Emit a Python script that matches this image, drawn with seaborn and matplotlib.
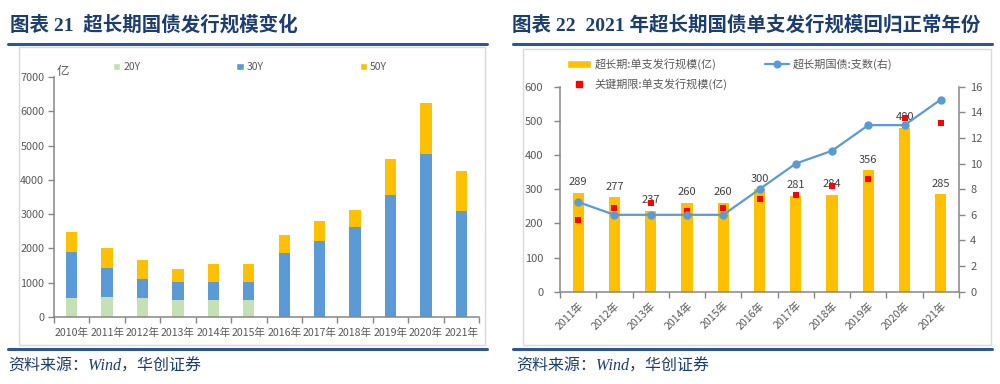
import numpy as np
import pandas as pd
import matplotlib
matplotlib.use("Agg")
import matplotlib.pyplot as plt
import seaborn as sns
from matplotlib.patches import Rectangle, Patch
from matplotlib.lines import Line2D

# ---------------- data ----------------
years_left = ["2010年", "2011年", "2012年", "2013年", "2014年", "2015年",
              "2016年", "2017年", "2018年", "2019年", "2020年", "2021年"]
bond_20y = [550, 570, 550, 510, 510, 510, 0, 0, 0, 0, 0, 0]
bond_30y = [1360, 850, 550, 500, 510, 510, 1870, 2220, 2620, 3550, 4760, 3090]
bond_50y = [560, 600, 550, 390, 530, 530, 520, 580, 500, 1070, 1490, 1180]

years_right = ["2011年", "2012年", "2013年", "2014年", "2015年", "2016年",
               "2017年", "2018年", "2019年", "2020年", "2021年"]
single_size = [289, 277, 237, 260, 260, 300, 281, 284, 356, 480, 285]
bond_count = [7, 6, 6, 6, 6, 8, 10, 11, 13, 13, 15]
key_size = [210, 246, 259, 236, 244, 270, 282, 309, 331, 508, 495]

left_ticks = list(range(0, 7001, 1000))
right_ticks = list(range(0, 601, 100))
count_ticks = list(range(0, 17, 2))

# ---------------- style ----------------
sns.set_style("white")
plt.rcParams["font.family"] = ["Noto Sans CJK SC", "DejaVu Sans"]
plt.rcParams["axes.unicode_minus"] = False

GREEN = "#C5E0B4"
BLUE = "#5B9BD5"
YEL = "#FFC000"
RED = "#FF0000"
TXT = "#595959"
AXC = "#868686"
NAVY = "#1B3D70"
LINEBLUE = "#2E5597"

W, H = 1000, 384
fig = plt.figure(figsize=(W / 100, H / 100), dpi=100)
fig.patch.set_facecolor("white")


def fx(x):
    return x / W


def fy(y):
    return 1 - y / H


# ---------------- decorations ----------------
for (x0, x1) in [(8, 487), (513, 992)]:
    fig.add_artist(Line2D([fx(x0), fx(x1)], [fy(44), fy(44)], color=LINEBLUE, lw=2.2,
                          transform=fig.transFigure))
    fig.add_artist(Line2D([fx(x0), fx(x1)], [fy(349), fy(349)], color=LINEBLUE, lw=2.2,
                          transform=fig.transFigure))
fig.add_artist(Rectangle((fx(19), fy(345)), fx(485) - fx(19), fy(47) - fy(345), fill=False,
                         edgecolor="#D9D9D9", lw=1, transform=fig.transFigure))
fig.add_artist(Rectangle((fx(523), fy(345)), fx(991) - fx(523), fy(49) - fy(345), fill=False,
                         edgecolor="#D9D9D9", lw=1, transform=fig.transFigure))

title_fam = ["Liberation Serif", "Noto Sans CJK SC"]
fig.text(fx(10), fy(25), "图表 21  超长期国债发行规模变化", ha="left", va="center",
         fontsize=14, fontweight="bold", color=NAVY, family=title_fam)
fig.text(fx(512), fy(25), "图表 22  2021 年超长期国债单支发行规模回归正常年份", ha="left", va="center",
         fontsize=14, fontweight="bold", color=NAVY, family=title_fam)
for x0 in [8, 516]:
    fig.text(fx(x0), fy(367), "资料来源：Wind，华创证券", ha="left", va="center",
             fontsize=11.5, style="italic", color=NAVY, family=title_fam)

# ---------------- left chart ----------------
axL = fig.add_axes([fx(54), fy(317), fx(479) - fx(54), fy(77) - fy(317)])
dfL = pd.DataFrame({"year": years_left, "b20": bond_20y, "b30": bond_30y, "b50": bond_50y})
dfL["c30"] = dfL["b20"] + dfL["b30"]
dfL["c50"] = dfL["c30"] + dfL["b50"]

bw = 0.32
sns.barplot(data=dfL, x="year", y="c50", color=YEL, saturation=1, width=bw, ax=axL, linewidth=0)
sns.barplot(data=dfL, x="year", y="c30", color=BLUE, saturation=1, width=bw, ax=axL, linewidth=0)
sns.barplot(data=dfL, x="year", y="b20", color=GREEN, saturation=1, width=bw, ax=axL, linewidth=0)

nL = len(years_left)
axL.set_xlim(-0.5, nL - 0.5)
axL.set_ylim(0, 7000)
axL.set_yticks(left_ticks)
axL.set_xticks(np.arange(nL))
axL.set_xticklabels(years_left)
axL.set_xticks(np.arange(nL + 1) - 0.5, minor=True)
axL.set_xlabel("")
axL.set_ylabel("")
for s in ["top", "right"]:
    axL.spines[s].set_visible(False)
for s in ["left", "bottom"]:
    axL.spines[s].set_color(AXC)
    axL.spines[s].set_linewidth(1.1)
axL.tick_params(axis="x", which="major", length=0, pad=8, labelsize=7.6, labelcolor=TXT)
axL.tick_params(axis="x", which="minor", length=4, width=1, color=AXC, direction="out", bottom=True)
axL.tick_params(axis="y", length=4, width=1, color=AXC, direction="out", left=True,
                pad=3, labelsize=7.8, labelcolor=TXT)
axL.set_facecolor("none")

fig.text(fx(63), fy(72), "亿", ha="center", va="center", fontsize=9, color=TXT)
handlesL = [Patch(facecolor=GREEN), Patch(facecolor=BLUE), Patch(facecolor=YEL)]
fig.legend(handlesL, ["20Y", "30Y", "50Y"], loc="center left", bbox_to_anchor=(fx(113), fy(67)),
           ncol=3, frameon=False, handlelength=0.7, handleheight=0.7, handletextpad=0.3,
           columnspacing=9.2, fontsize=7.5, borderpad=0, borderaxespad=0, labelcolor=TXT)

# ---------------- right chart ----------------
axR = fig.add_axes([fx(560), fy(291.7), fx(959) - fx(560), fy(86.7) - fy(291.7)])
dfR = pd.DataFrame({"year": years_right, "single": single_size, "count": bond_count, "key": key_size})
nR = len(years_right)

sns.barplot(data=dfR, x="year", y="single", color=YEL, saturation=1, width=0.31, ax=axR, linewidth=0)
axR.bar_label(axR.containers[0], labels=[str(v) for v in single_size], padding=4,
              fontsize=8, color="#404040")
sns.stripplot(data=dfR, x="year", y="key", marker="s", color=RED, size=4.8, jitter=False,
              linewidth=0, ax=axR, zorder=6)

axR2 = axR.twinx()
sns.pointplot(data=dfR, x="year", y="count", color=BLUE, markers="o", errorbar=None,
              ax=axR2, markersize=4.8, linewidth=1.6)

for ax in (axR, axR2):
    ax.set_xlim(-0.5, nR - 0.5)
    ax.set_xlabel("")
    ax.set_ylabel("")
axR.set_ylim(0, 600)
axR.set_yticks(right_ticks)
axR2.set_ylim(0, 16)
axR2.set_yticks(count_ticks)
axR.set_xticks(np.arange(nR))
axR.set_xticklabels(years_right, rotation=45, ha="right", rotation_mode="anchor")
axR.set_xticks(np.arange(nR + 1) - 0.5, minor=True)

for s in ["top", "right"]:
    axR.spines[s].set_visible(False)
for s in ["left", "bottom"]:
    axR.spines[s].set_color(AXC)
    axR.spines[s].set_linewidth(1.1)
for s in ["top", "left", "bottom"]:
    axR2.spines[s].set_visible(False)
axR2.spines["right"].set_color(AXC)
axR2.spines["right"].set_linewidth(1.1)

axR.tick_params(axis="x", which="major", length=0, pad=6, labelsize=7.6, labelcolor=TXT)
axR.tick_params(axis="x", which="minor", length=4, width=1, color=AXC, direction="out", bottom=True)
axR.tick_params(axis="y", length=4, width=1, color=AXC, direction="out", left=True,
                pad=8, labelsize=8, labelcolor=TXT)
axR2.tick_params(axis="y", length=4, width=1, color=AXC, direction="out", right=True,
                 pad=4, labelsize=8, labelcolor=TXT)
axR2.tick_params(axis="x", which="both", length=0, labelbottom=False)
axR.set_facecolor("none")

handlesR = [Patch(facecolor=YEL),
            Line2D([], [], marker="s", color=RED, linestyle="none", markersize=4.8),
            Line2D([], [], color=BLUE, marker="o", markersize=4.8, linewidth=1.6)]
labelsR = ["超长期:单支发行规模(亿)", "关键期限:单支发行规模(亿)", "超长期国债:支数(右)"]
fig.legend(handlesR, labelsR, loc="upper left", bbox_to_anchor=(fx(567), fy(58)), ncol=2,
           frameon=False, handlelength=2.2, handleheight=0.7, handletextpad=0.25,
           columnspacing=3.4, labelspacing=0.75, fontsize=8, borderpad=0, borderaxespad=0,
           labelcolor=TXT)

fig.savefig("out.png", dpi=100, facecolor="white")
